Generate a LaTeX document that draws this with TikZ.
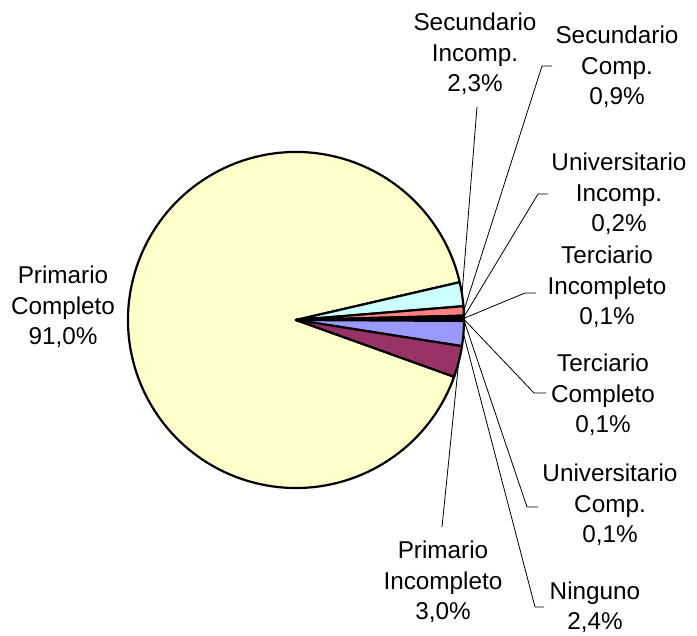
\documentclass[tikz,border=0pt]{standalone}
\usepackage{fontspec}
\setmainfont{Liberation Sans}
\usetikzlibrary{calc}

\definecolor{pyellow}{HTML}{FFFFCC}
\definecolor{pcyan}{HTML}{CCFFFF}
\definecolor{pred}{HTML}{FF8080}
\definecolor{pblue}{HTML}{9999FF}
\definecolor{pmaroon}{HTML}{993366}
\definecolor{ppurple}{HTML}{660066}
\definecolor{pnavy}{HTML}{000080}
\definecolor{pocean}{HTML}{0066CC}
\definecolor{plilac}{HTML}{CCCCFF}

\newcommand{\lblfont}{\fontsize{24.3}{30.5}\selectfont}

\begin{document}
\begin{tikzpicture}[x=1pt, y=1pt,
    slice/.style={draw=black, line width=2.2pt, line join=round},
    lbl/.style={align=center, anchor=base, inner sep=0pt, font=\lblfont},
    leader/.style={draw=black, line width=0.8pt}]
    \useasboundingbox (0,0) rectangle (697,636);

    % Pie
    \coordinate (C) at (296,316);
    \filldraw [slice, fill=pyellow] (C) -- ($(C)+(-19.76:168pt)$) arc[start angle=-19.76, end angle=-347, radius=168pt] -- cycle;
    \filldraw [slice, fill=pcyan] (C) -- ($(C)+(13:168pt)$) arc[start angle=13, end angle=4.72, radius=168pt] -- cycle;
    \filldraw [slice, fill=pred] (C) -- ($(C)+(4.72:168pt)$) arc[start angle=4.72, end angle=1.48, radius=168pt] -- cycle;
    \filldraw [slice, fill=ppurple] (C) -- ($(C)+(1.48:168pt)$) arc[start angle=1.48, end angle=0.76, radius=168pt] -- cycle;
    \filldraw [slice, fill=pocean] (C) -- ($(C)+(0.76:168pt)$) arc[start angle=0.76, end angle=0.40, radius=168pt] -- cycle;
    \filldraw [slice, fill=plilac] (C) -- ($(C)+(0.40:168pt)$) arc[start angle=0.40, end angle=0.04, radius=168pt] -- cycle;
    \filldraw [slice, fill=pnavy] (C) -- ($(C)+(0.04:168pt)$) arc[start angle=0.04, end angle=-0.32, radius=168pt] -- cycle;
    \filldraw [slice, fill=pblue] (C) -- ($(C)+(-0.32:168pt)$) arc[start angle=-0.32, end angle=-8.96, radius=168pt] -- cycle;
    \filldraw [slice, fill=pmaroon] (C) -- ($(C)+(-8.96:168pt)$) arc[start angle=-8.96, end angle=-19.76, radius=168pt] -- cycle;

    % Rim points of the slices
    \coordinate (rimSI) at ($(C)+(8.86:168pt)$);
    \coordinate (rimSC) at ($(C)+(3.10:168pt)$);
    \coordinate (rimUI) at ($(C)+(1.12:168pt)$);
    \coordinate (rimTI) at ($(C)+(0.58:168pt)$);
    \coordinate (rimTC) at ($(C)+(0.22:168pt)$);
    \coordinate (rimUC) at ($(C)+(-0.14:168pt)$);
    \coordinate (rimNI) at ($(C)+(-4.64:168pt)$);
    \coordinate (rimPI) at ($(C)+(-14.36:168pt)$);

    % Texts (anchored at the last line)
    \node [lbl] (PC) at (63,291) {Primario\\Completo\\91,0\%};
    \node [lbl] (SI) at (475,544) {Secundario\\Incomp.\\2,3\%};
    \node [lbl] (SC) at (617,531) {Secundario\\Comp.\\0,9\%};
    \node [lbl] (UI) at (619,404) {Universitario\\Incomp.\\0,2\%};
    \node [lbl] (TI) at (607,311) {Terciario\\Incompleto\\0,1\%};
    \node [lbl] (TC) at (603,203) {Terciario\\Completo\\0,1\%};
    \node [lbl] (UC) at (610,93) {Universitario\\Comp.\\0,1\%};
    \node [lbl] (PI) at (443,16) {Primario\\Incompleto\\3,0\%};
    \node [lbl] (NI) at (595,6) {Ninguno\\2,4\%};

    % Leader lines
    \coordinate (endSI) at (477,529);
    \coordinate (bendSC) at (542,570);
    \coordinate (bendUI) at (538,442);
    \coordinate (bendTI) at (525,343);
    \coordinate (bendTC) at (534,243);
    \coordinate (bendUC) at (527,129);
    \coordinate (bendNI) at (535,29);
    \coordinate (endPI) at (442,109);
    \draw [leader] (rimSI) -- (endSI);
    \draw [leader] (rimSC) -- (bendSC) -- ++(10,0);
    \draw [leader] (rimUI) -- (bendUI) -- ++(10,0);
    \draw [leader] (rimTI) -- (bendTI) -- ++(11,0);
    \draw [leader] (rimTC) -- (bendTC) -- ++(12,0);
    \draw [leader] (rimUC) -- (bendUC) -- ++(11,0);
    \draw [leader] (rimNI) -- (bendNI) -- ++(9,0);
    \draw [leader] (rimPI) -- (endPI);

\end{tikzpicture}
\end{document}
